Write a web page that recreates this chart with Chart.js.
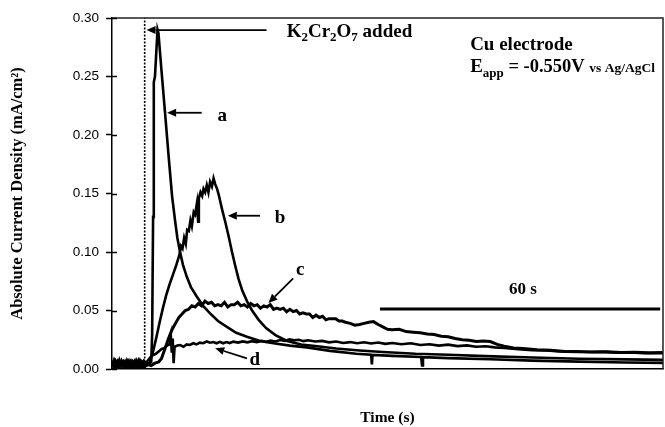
<!DOCTYPE html>
<html>
<head>
<meta charset="utf-8">
<script src="https://cdn.jsdelivr.net/npm/chart.js@4/dist/chart.umd.min.js"></script>
<style>
  html, body { margin: 0; padding: 0; background: #fff; }
  canvas { display: block; }
</style>
</head>
<body>
<canvas id="chart" width="665" height="427"></canvas>
<script>
// Current transients on a Cu electrode after K2Cr2O7 addition (time in s, current in mA/cm2)

// Shared pre-addition baseline samples
const baseTime = [0, 0.4, 0.8, 1.2, 1.6, 2.0, 2.4, 2.8, 3.2, 3.6, 4.0, 4.4, 4.8, 5.2, 5.6, 6.0, 6.4, 6.8, 7.2];
const baseA = [0.002, 0.007, 0.001, 0.006, 0.003, 0.007, 0.002, 0.006, 0.001, 0.005, 0.007, 0.002, 0.006, 0.003, 0.007, 0.001, 0.006, 0.003, 0.005];
const baseB = [0.006, 0.001, 0.005, 0.007, 0.002, 0.006, 0.007, 0.001, 0.007, 0.003, 0.001, 0.006, 0.002, 0.007, 0.003, 0.006, 0.001, 0.006, 0.003];
const baseC = [0.004, 0.007, 0.002, 0.001, 0.007, 0.003, 0.001, 0.006, 0.007, 0.002, 0.006, 0.004, 0.001, 0.006, 0.002, 0.007, 0.004, 0.002, 0.005];
const baseD = [0.005, 0.002, 0.007, 0.004, 0.001, 0.006, 0.005, 0.002, 0.004, 0.007, 0.002, 0.005, 0.007, 0.001, 0.006, 0.002, 0.005, 0.007, 0.003];

// Curve a
const timeA = [7.6, 8.0, 8.4, 8.6, 8.8, 8.95, 9.2, 9.45, 9.75, 9.95,
  10.6, 11.36, 12.1, 12.86, 13.5, 14.0, 14.57, 15.2, 16.0, 16.9,
  18.15, 19.5, 21.0, 22.7, 24.6, 26.6, 28.9, 31.7, 34.6, 38.1,
  41.7, 46.7, 52.3, 55.5, 55.65, 55.8, 60, 66.2, 66.4, 66.6,
  72, 81, 90, 100, 110, 118];
const currentA = [0.004, 0.005, 0.006, 0.03, 0.13, 0.245, 0.25, 0.268, 0.29, 0.287,
  0.255, 0.219, 0.183, 0.148, 0.127, 0.112, 0.100, 0.089, 0.079, 0.070,
  0.062, 0.054, 0.0475, 0.041, 0.036, 0.031, 0.0276, 0.024, 0.022, 0.020,
  0.0185, 0.0155, 0.013, 0.0122, 0.004, 0.0121, 0.0112, 0.0102, 0.003, 0.0101,
  0.0093, 0.0083, 0.0072, 0.0063, 0.0056, 0.0052];

// Curve b
const timeB = [7.6, 8.1, 8.8, 9.5, 10.2, 10.9, 11.6, 12.3, 13.0, 13.7,
  14.4, 14.8, 15.1, 15.45, 15.8, 16.1, 16.45, 16.8, 17.1, 17.5,
  17.8, 18.2, 18.45, 18.6, 18.95, 19.3, 19.6, 19.95, 20.3, 20.65,
  21.0, 21.4, 21.75, 22.1, 22.5, 22.85, 23.2, 23.6, 24.3, 25.0,
  25.7, 26.4, 27.1, 27.9, 28.9, 30.0, 31.4, 33.0, 35.0, 37.5,
  40.5, 44, 48, 53, 58, 65, 72, 80, 90, 100,
  110, 118];
const currentB = [0.003, 0.006, 0.015, 0.027, 0.040, 0.052, 0.063, 0.072, 0.080, 0.088,
  0.097, 0.105, 0.103, 0.112, 0.107, 0.119, 0.118, 0.127, 0.122, 0.134,
  0.132, 0.142, 0.126, 0.146, 0.151, 0.148, 0.154, 0.151, 0.157, 0.151,
  0.160, 0.156, 0.163, 0.158, 0.154, 0.149, 0.143, 0.136, 0.125, 0.113,
  0.100, 0.088, 0.077, 0.067, 0.058, 0.050, 0.042, 0.035, 0.029, 0.024,
  0.021, 0.0195, 0.0175, 0.0158, 0.0145, 0.013, 0.0122, 0.011, 0.0098, 0.0088,
  0.0082, 0.0078];

// Curve c
const timeC = [7.6, 8.4, 9.2, 10.0, 10.6, 11.4, 12.1, 12.9, 13.6, 14.3,
  15.0, 15.7, 16.4, 17.1, 17.8, 18.5, 19.2, 19.9, 20.6, 21.3,
  22.0, 22.7, 23.4, 24.1, 24.8, 25.5, 26.2, 26.9, 27.6, 28.3,
  29.0, 29.7, 30.4, 31.1, 31.8, 32.5, 33.2, 33.9, 34.6, 35.3,
  36.0, 36.7, 37.4, 38.1, 38.8, 39.5, 40.2, 40.9, 41.6, 42.3,
  43.0, 43.7, 44.4, 45.1, 45.8, 46.5, 47.2, 47.9, 48.6, 49.3,
  50.0, 51, 52, 53, 54, 55, 56, 57, 58, 59,
  60, 61.5, 63, 64.5, 66, 67.5, 69, 70.5, 72, 73.5,
  75, 76.5, 78, 79.5, 81, 82.5, 84, 86, 88, 91,
  94, 97, 100, 103, 106, 109, 112, 115, 118];
const currentC = [0.004, 0.003, 0.005, 0.006, 0.009, 0.018, 0.026, 0.034, 0.039, 0.044,
  0.047, 0.050, 0.051, 0.054, 0.053, 0.056, 0.054, 0.058, 0.056, 0.057,
  0.054, 0.055, 0.054, 0.057, 0.053, 0.055, 0.055, 0.057, 0.054, 0.055,
  0.053, 0.056, 0.054, 0.055, 0.052, 0.054, 0.053, 0.055, 0.051, 0.052,
  0.051, 0.052, 0.049, 0.051, 0.049, 0.050, 0.047, 0.048, 0.047, 0.047,
  0.044, 0.046, 0.044, 0.045, 0.042, 0.043, 0.043, 0.043, 0.041, 0.041,
  0.040, 0.039, 0.0375, 0.038, 0.039, 0.040, 0.0405, 0.038, 0.036, 0.034,
  0.0335, 0.034, 0.032, 0.0315, 0.031, 0.030, 0.0295, 0.028, 0.0275, 0.026,
  0.025, 0.0245, 0.0235, 0.024, 0.0235, 0.021, 0.0195, 0.018, 0.0175, 0.0165,
  0.016, 0.015, 0.0148, 0.0145, 0.0148, 0.014, 0.0143, 0.0138, 0.014];

// Curve d
const timeD = [7.6, 8.2, 8.8, 9.4, 10.0, 10.6, 11.2, 11.8, 12.3, 12.6,
  12.8, 13.0, 13.2, 13.4, 14.0, 14.6, 15.3, 16.0, 16.7, 17.4,
  18.1, 18.8, 19.5, 20.3, 21.0, 21.7, 22.4, 23.1, 23.8, 24.5,
  25.2, 26, 27, 28, 29, 30, 31, 32, 33, 34,
  35, 36, 37, 38, 39, 40, 41, 42, 43.5, 45,
  46.5, 48, 49.5, 51, 52.5, 54, 55.5, 57, 58.5, 60,
  62, 64, 66, 68, 70, 72, 74, 76, 78, 80,
  82, 84, 87, 90, 93, 96, 99, 102, 105, 108,
  111, 114, 118];
const currentD = [0.007, 0.010, 0.012, 0.013, 0.015, 0.017, 0.018, 0.020, 0.021, 0.028,
  0.014, 0.026, 0.005, 0.019, 0.020, 0.0205, 0.019, 0.021, 0.0205, 0.022,
  0.021, 0.0225, 0.022, 0.0235, 0.0225, 0.023, 0.022, 0.0232, 0.022, 0.023,
  0.0222, 0.0234, 0.0226, 0.0236, 0.0228, 0.0238, 0.023, 0.024, 0.0232, 0.0242,
  0.0235, 0.0248, 0.024, 0.0253, 0.0245, 0.025, 0.0238, 0.0245, 0.0235, 0.024,
  0.0228, 0.0235, 0.0222, 0.023, 0.022, 0.0228, 0.0218, 0.0226, 0.0215, 0.0222,
  0.0212, 0.022, 0.0205, 0.0212, 0.020, 0.0208, 0.0196, 0.0202, 0.019, 0.0195,
  0.0185, 0.018, 0.017, 0.016, 0.0158, 0.015, 0.0152, 0.0145, 0.0148, 0.014,
  0.0142, 0.0135, 0.0134];

// Axis range and ticks
const timeRange = [0, 118];
const currentTicks = [0, 0.05, 0.10, 0.15, 0.20, 0.25, 0.30];

// Moment of dichromate addition and the 60 s scale bar
const additionTime = 7;
const scaleBarTime = [57.4, 117.4];
const scaleBarLevel = 0.0513;

const SERIF = '"Liberation Serif", "Times New Roman", Times, serif';
const SANS = '"Liberation Sans", Arial, Helvetica, sans-serif';

function toPoints(baseVals, times, vals) {
  const pts = baseTime.map((t, i) => ({ x: t, y: baseVals[i] }));
  return pts.concat(times.map((t, i) => ({ x: t, y: vals[i] })));
}

const curveStyle = { borderColor: '#000', borderWidth: 2.6, pointRadius: 0, fill: false, tension: 0 };

const datasets = [
  Object.assign({ label: 'a', data: toPoints(baseA, timeA, currentA) }, curveStyle),
  Object.assign({ label: 'b', data: toPoints(baseB, timeB, currentB) }, curveStyle),
  Object.assign({ label: 'c', data: toPoints(baseC, timeC, currentC) }, curveStyle, { borderWidth: 3 }),
  Object.assign({ label: 'd', data: toPoints(baseD, timeD, currentD) }, curveStyle),
  {
    label: 'addition', data: [{ x: additionTime, y: 0 }, { x: additionTime, y: currentTicks[currentTicks.length - 1] }],
    borderColor: '#000', borderWidth: 1.6, borderDash: [2, 1.5], pointRadius: 0
  },
  {
    label: '60 s', data: scaleBarTime.map(t => ({ x: t, y: scaleBarLevel })),
    borderColor: '#000', borderWidth: 3, pointRadius: 0
  }
];

// Callout arrows and labels, placed in data units
const callouts = [
  { text: 'a', from: [19.2, 0.219], to: [11.8, 0.219], at: [23.6, 0.216] },
  { text: 'b', from: [31.7, 0.131], to: [24.8, 0.131], at: [36.0, 0.129] },
  { text: 'c', from: [38.8, 0.0775], to: [33.5, 0.0565], at: [40.3, 0.0846] },
  { text: 'd', from: [28.9, 0.0091], to: [22.1, 0.0177], at: [30.6, 0.0077] }
];

function drawArrow(ctx, x0, y0, x1, y1) {
  const ang = Math.atan2(y1 - y0, x1 - x0);
  const len = 9, half = 4;
  const bx = x1 - len * Math.cos(ang), by = y1 - len * Math.sin(ang);
  ctx.beginPath();
  ctx.moveTo(x0, y0);
  ctx.lineTo(bx, by);
  ctx.lineWidth = 1.8;
  ctx.strokeStyle = '#000';
  ctx.stroke();
  ctx.beginPath();
  ctx.moveTo(x1, y1);
  ctx.lineTo(bx - half * Math.sin(ang), by + half * Math.cos(ang));
  ctx.lineTo(bx + half * Math.sin(ang), by - half * Math.cos(ang));
  ctx.closePath();
  ctx.fillStyle = '#000';
  ctx.fill();
}

function drawRuns(ctx, runs, x, y) {
  let cx = x;
  ctx.textAlign = 'left';
  ctx.textBaseline = 'alphabetic';
  runs.forEach(r => {
    ctx.font = 'bold ' + r.size + 'px ' + SERIF;
    ctx.fillText(r.text, cx, y + (r.shift || 0));
    cx += ctx.measureText(r.text).width;
  });
}

const decorations = {
  id: 'decorations',
  afterDraw(chart) {
    const { ctx, chartArea: area, scales: { x, y } } = chart;
    ctx.save();
    // frame on the top and right
    ctx.strokeStyle = '#222';
    ctx.lineWidth = 1.5;
    ctx.beginPath();
    ctx.moveTo(area.left, area.top);
    ctx.lineTo(area.right, area.top);
    ctx.lineTo(area.right, area.bottom);
    ctx.stroke();
    // tick marks crossing into the plot
    ctx.strokeStyle = '#000';
    ctx.lineWidth = 1.5;
    currentTicks.forEach(v => {
      const py = Math.round(y.getPixelForValue(v)) + 0.5;
      ctx.beginPath();
      ctx.moveTo(area.left, py);
      ctx.lineTo(area.left + 5, py);
      ctx.stroke();
    });
    // addition arrow and text
    drawArrow(ctx, x.getPixelForValue(33.1), y.getPixelForValue(0.2897), x.getPixelForValue(7.4), y.getPixelForValue(0.2897));
    ctx.fillStyle = '#000';
    drawRuns(ctx, [
      { text: 'K', size: 19 }, { text: '2', size: 13, shift: 4 },
      { text: 'Cr', size: 19 }, { text: '2', size: 13, shift: 4 },
      { text: 'O', size: 19 }, { text: '7', size: 13, shift: 4 },
      { text: ' added', size: 19 }
    ], x.getPixelForValue(37.4), y.getPixelForValue(0.284));
    // electrode conditions
    drawRuns(ctx, [{ text: 'Cu electrode', size: 19 }], x.getPixelForValue(76.7), y.getPixelForValue(0.2726));
    drawRuns(ctx, [
      { text: 'E', size: 19 }, { text: 'app', size: 13, shift: 5 },
      { text: ' = -0.550V ', size: 18.5 }, { text: 'vs Ag/AgCl', size: 13.5 }
    ], x.getPixelForValue(76.7), y.getPixelForValue(0.2538));
    // scale bar caption
    ctx.font = 'bold 17px ' + SERIF;
    ctx.textAlign = 'center';
    ctx.textBaseline = 'alphabetic';
    ctx.fillText('60 s', x.getPixelForValue(88), y.getPixelForValue(0.064));
    // curve callouts
    callouts.forEach(c => {
      drawArrow(ctx, x.getPixelForValue(c.from[0]), y.getPixelForValue(c.from[1]),
        x.getPixelForValue(c.to[0]), y.getPixelForValue(c.to[1]));
      ctx.font = 'bold 19px ' + SERIF;
      ctx.textAlign = 'center';
      ctx.textBaseline = 'middle';
      ctx.fillText(c.text, x.getPixelForValue(c.at[0]), y.getPixelForValue(c.at[1]));
    });
    ctx.restore();
  }
};

new Chart(document.getElementById('chart'), {
  type: 'line',
  data: { datasets },
  options: {
    responsive: false,
    animation: false,
    devicePixelRatio: 1,
    layout: { padding: { left: 0, right: 2, top: 18, bottom: 0 } },
    plugins: { legend: { display: false }, tooltip: { enabled: false } },
    scales: {
      x: {
        type: 'linear',
        min: timeRange[0],
        max: timeRange[1],
        ticks: { display: false },
        grid: { display: false, drawTicks: false },
        border: { display: true, color: '#000', width: 1.5 },
        title: {
          display: true, text: 'Time (s)', color: '#000',
          font: { family: SERIF, size: 15.5, weight: 'bold' },
          padding: { top: 0, bottom: 0 }
        },
        afterFit(scale) { scale.height = 58; }
      },
      y: {
        type: 'linear',
        min: currentTicks[0],
        max: currentTicks[currentTicks.length - 1],
        afterBuildTicks(scale) { scale.ticks = currentTicks.map(v => ({ value: v })); },
        ticks: {
          color: '#000',
          font: { family: SANS, size: 13.5 },
          padding: 7,
          callback: v => v.toFixed(2)
        },
        grid: { drawOnChartArea: false, tickLength: 6, tickColor: '#000', tickWidth: 1.5 },
        border: { display: true, color: '#000', width: 1.5 },
        title: {
          display: true, text: 'Absolute Current Density (mA/cm²)', color: '#000',
          font: { family: SERIF, size: 16.5, weight: 'bold' },
          padding: { top: 8, bottom: 0 }
        },
        afterFit(scale) { scale.width = 112; }
      }
    }
  },
  plugins: [decorations]
});
</script>
</body>
</html>
